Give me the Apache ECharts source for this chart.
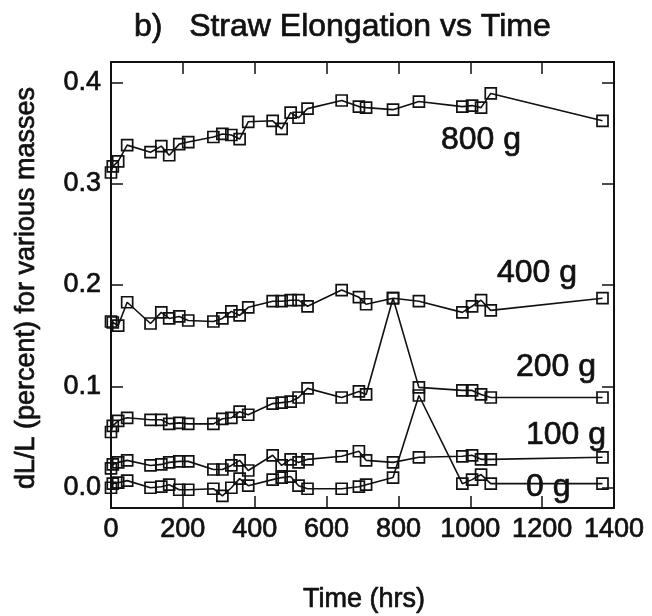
<!DOCTYPE html>
<html>
<head>
<meta charset="utf-8">
<script src="https://cdn.jsdelivr.net/npm/echarts@6/dist/echarts.min.js"></script>
<style>
  html, body { margin: 0; padding: 0; background: #fff; }
  #chart { width: 652px; height: 616px; }
</style>
</head>
<body>
<div id="chart"></div>
<script>
// Measurement times (hrs), shared by all straws
const times = [0, 5, 20, 45, 110, 140, 162, 190, 215, 285, 310, 335, 358, 382, 450, 475, 500, 522, 547, 642, 690, 710, 785, 857, 978, 1005, 1030, 1057, 1368];

// dL/L (percent) for each mass
const mass800 = [0.311, 0.317, 0.322, 0.338, 0.331, 0.337, 0.328, 0.339, 0.341, 0.346, 0.349, 0.348, 0.344, 0.361, 0.362, 0.354, 0.370, 0.365, 0.374, 0.382, 0.376, 0.375, 0.373, 0.381, 0.376, 0.377, 0.375, 0.389, 0.362];
const mass400 = [0.164, 0.163, 0.160, 0.183, 0.162, 0.173, 0.167, 0.169, 0.165, 0.164, 0.167, 0.174, 0.170, 0.178, 0.184, 0.184, 0.185, 0.185, 0.179, 0.195, 0.188, 0.181, 0.187, 0.184, 0.173, 0.179, 0.185, 0.175, 0.187];
const mass200 = [0.055, 0.061, 0.066, 0.069, 0.067, 0.067, 0.063, 0.064, 0.063, 0.063, 0.068, 0.069, 0.075, 0.072, 0.083, 0.084, 0.085, 0.089, 0.098, 0.089, 0.095, 0.092, 0.187, 0.099, 0.096, 0.096, 0.092, 0.089, 0.089];
const mass100 = [0.019, 0.023, 0.025, 0.027, 0.022, 0.023, 0.025, 0.026, 0.026, 0.018, 0.018, 0.022, 0.027, 0.017, 0.032, 0.022, 0.028, 0.025, 0.028, 0.031, 0.036, 0.027, 0.025, 0.030, 0.031, 0.032, 0.028, 0.028, 0.030];
const mass0   = [0.000, 0.004, 0.005, 0.007, 0.000, 0.001, 0.003, -0.002, -0.002, -0.001, -0.008, 0.000, 0.009, 0.002, 0.008, 0.010, 0.011, 0.002, -0.001, -0.001, 0.001, 0.003, 0.010, 0.091, 0.004, 0.008, 0.013, 0.004, 0.004];

const seriesNames = ['800 g', '400 g', '200 g', '100 g', '0 g'];
const seriesValues = [mass800, mass400, mass200, mass100, mass0];

const yTicks = [0, 0.1, 0.2, 0.3, 0.4];

const FONT = '"Liberation Sans", Arial, Helvetica, sans-serif';
const INK = '#111';

const chart = echarts.init(document.getElementById('chart'), null, { renderer: 'canvas' });

function pairs(vals) { return times.map((t, i) => [t, vals[i]]); }

const axisLineStyle = { color: INK, width: 2 };
const tickStyle = { color: INK, width: 1.5 };
const labelStyle = { fontSize: 27, fontFamily: FONT, color: INK, textBorderColor: INK, textBorderWidth: 0.7 };

function txt(text, x, y, size, extra) {
  return Object.assign({
    type: 'text', x: x, y: y,
    style: { text: text, font: size + 'px ' + FONT, fill: INK, stroke: INK, lineWidth: 0.7,
             textAlign: 'left', textVerticalAlign: 'middle' }
  }, extra || {});
}

const option = {
  animation: false,
  backgroundColor: '#fff',
  grid: { left: 111, right: 38, top: 62, bottom: 108, containLabel: false },
  xAxis: [
    {
      type: 'value', position: 'bottom', min: 0, max: 1400, interval: 200,
      axisLine: { show: true, onZero: false, lineStyle: axisLineStyle },
      axisTick: { show: true, inside: true, length: 12, lineStyle: tickStyle },
      axisLabel: Object.assign({ show: true, margin: 8, formatter: v => String(v) }, labelStyle),
      splitLine: { show: false }
    },
    {
      type: 'value', position: 'top', min: 0, max: 1400, interval: 200,
      axisLine: { show: true, onZero: false, lineStyle: axisLineStyle },
      axisTick: { show: true, inside: true, length: 12, lineStyle: tickStyle },
      axisLabel: { show: false },
      splitLine: { show: false }
    }
  ],
  yAxis: [
    {
      type: 'value', position: 'left', min: -0.02, max: 0.42,
      axisLine: { show: true, onZero: false, lineStyle: axisLineStyle },
      axisTick: { show: true, inside: true, length: 12, lineStyle: tickStyle, customValues: yTicks },
      axisLabel: Object.assign({ show: true, margin: 10, customValues: yTicks,
                   formatter: v => Number(v).toFixed(1) }, labelStyle),
      splitLine: { show: false }
    },
    {
      type: 'value', position: 'right', min: -0.02, max: 0.42,
      axisLine: { show: true, onZero: false, lineStyle: axisLineStyle },
      axisTick: { show: true, inside: true, length: 12, lineStyle: tickStyle, customValues: yTicks },
      axisLabel: { show: false, customValues: yTicks },
      splitLine: { show: false }
    }
  ],
  series: seriesNames.map((name, k) => ({
    name: name,
    type: 'line',
    xAxisIndex: 0, yAxisIndex: 0,
    data: pairs(seriesValues[k]),
    symbol: 'rect',
    symbolSize: 11,
    showAllSymbol: true,
    itemStyle: { color: 'rgba(255,255,255,0)', borderColor: INK, borderWidth: 1.7 },
    lineStyle: { color: INK, width: 1.6 },
    emphasis: { disabled: true },
    z: 3
  })),
  graphic: [
    txt('b)   Straw Elongation vs Time', 134, 27, 32),
    txt('dL/L (percent) for various masses', 27, 288, 27,
        { rotation: Math.PI / 2, style: { text: 'dL/L (percent) for various masses', font: '27px ' + FONT, fill: INK, stroke: INK, lineWidth: 0.7, textAlign: 'center', textVerticalAlign: 'middle' } }),
    txt('Time (hrs)', 364, 600, 27,
        { style: { text: 'Time (hrs)', font: '27px ' + FONT, fill: INK, stroke: INK, lineWidth: 0.7, textAlign: 'center', textVerticalAlign: 'middle' } }),
    txt('800 g', 441, 140, 32),
    txt('400 g', 497, 273, 32),
    txt('200 g', 516, 367, 32),
    txt('100 g', 526, 435, 32),
    txt('0 g', 526, 487, 32)
  ]
};

chart.setOption(option);
</script>
</body>
</html>
